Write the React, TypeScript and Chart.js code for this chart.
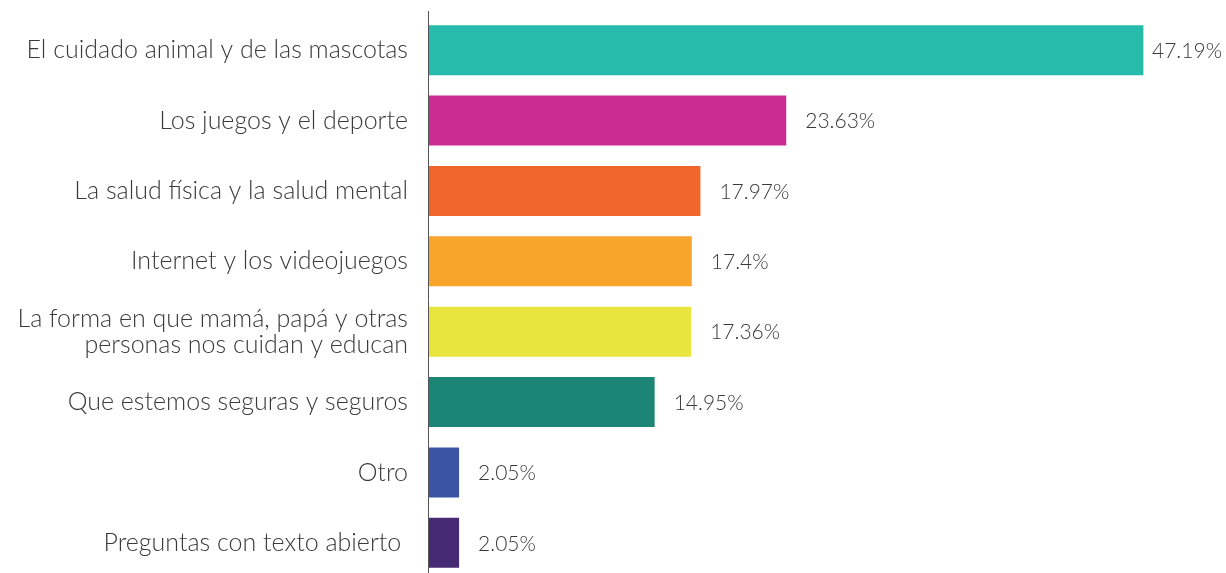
import React, { useEffect, useRef } from "react";
import { Chart, registerables } from "chart.js";

Chart.register(...registerables);

const categories: (string | string[])[] = [
  "El cuidado animal y de las mascotas",
  "Los juegos y el deporte",
  "La salud física y la salud mental",
  "Internet y los videojuegos",
  ["La forma en que mamá, papá y otras", "personas nos cuidan y educan"],
  "Que estemos seguras y seguros",
  "Otro",
  "Preguntas con texto abierto ",
];
const values = [47.19, 23.63, 17.97, 17.4, 17.36, 14.95, 2.05, 2.05];
const valueLabels = ["47.19%", "23.63%", "17.97%", "17.4%", "17.36%", "14.95%", "2.05%", "2.05%"];
const colors = ["#27BBAC", "#CA2C92", "#F1662A", "#F8A52B", "#E8E63E", "#1B8675", "#3B54A3", "#462A73"];

const W = 1226;
const H = 590;
const FONT = "Lato, 'Open Sans', sans-serif";

const valueLabelPlugin = {
  id: "valueLabels",
  afterDatasetsDraw(chart: any) {
    const { ctx } = chart;
    const meta = chart.getDatasetMeta(0);
    ctx.save();
    ctx.font = `300 21px ${FONT}`;
    ctx.fillStyle = "#3a3a3a";
    ctx.textBaseline = "middle";
    ctx.textAlign = "left";
    meta.data.forEach((bar: any, i: number) => {
      const txt = valueLabels[i];
      const w = ctx.measureText(txt).width;
      let x = bar.x + 19;
      if (x + w > chart.width - 4) x = chart.width - 4 - w;
      ctx.fillText(txt, x, bar.y + 1);
    });
    ctx.restore();
  },
};

const axisLinePlugin = {
  id: "axisLine",
  afterDraw(chart: any) {
    const { ctx, chartArea } = chart;
    const x = chart.scales.y.right + 0.5;
    ctx.save();
    ctx.strokeStyle = "#555";
    ctx.lineWidth = 1;
    ctx.beginPath();
    ctx.moveTo(x, chartArea.top - 4);
    ctx.lineTo(x, chart.height);
    ctx.stroke();
    ctx.restore();
  },
};

export default function App() {
  const ref = useRef<HTMLCanvasElement>(null);
  useEffect(() => {
    document.body.style.margin = "0";
    const chart = new Chart(ref.current!, {
      type: "bar",
      data: {
        labels: categories,
        datasets: [
          {
            data: values,
            backgroundColor: colors,
            borderWidth: 0,
            barPercentage: 0.71,
            categoryPercentage: 1,
          },
        ],
      },
      options: {
        indexAxis: "y",
        responsive: false,
        animation: false,
        layout: { padding: { top: 15, bottom: 12, left: 0, right: 40 } },
        plugins: { legend: { display: false }, tooltip: { enabled: false } },
        scales: {
          x: { display: false, min: 0, max: 50 },
          y: {
            grid: { display: false, drawTicks: false },
            border: { display: false },
            ticks: {
              padding: 20,
              color: "#3a3a3a",
              font: { family: FONT, size: 25, weight: "300" as any, lineHeight: 1.05 },
            },
            afterFit(scale: any) {
              scale.width = 428;
              scale.paddingTop = 0;
              scale.paddingBottom = 0;
            },
          },
        },
      },
      plugins: [valueLabelPlugin, axisLinePlugin],
    });
    return () => chart.destroy();
  }, []);
  return (
    <div style={{ width: W, height: 573, overflow: "hidden" }}>
      <canvas ref={ref} width={W} height={H} style={{ display: "block" }} />
    </div>
  );
}
